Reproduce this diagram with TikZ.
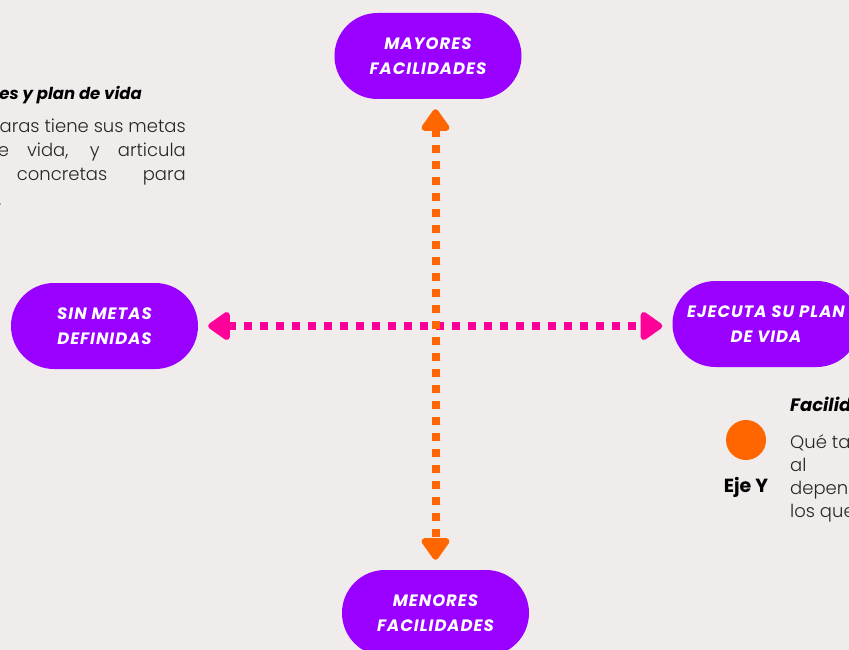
\documentclass[tikz,border=0pt]{standalone}
\usepackage{fontspec}
\setmainfont{Poppins}
\newfontfamily\bodyfont{Poppins Light}
\newfontfamily\labelfont{Poppins}[LetterSpace=6]
\usetikzlibrary{arrows.meta,calc}
\definecolor{bg}{HTML}{F0ECEB}
\definecolor{purp}{HTML}{9900FF}
\definecolor{pinkc}{HTML}{FF0099}
\definecolor{orangec}{HTML}{FF6600}
\begin{document}
\begin{tikzpicture}[x=1pt,y=-1pt,
  pill/.style={draw=none,fill=purp,rounded corners=43pt,minimum width=187pt,minimum height=86pt,
    text=white,align=center,font=\labelfont\bfseries\itshape\fontsize{16.5}{25}\selectfont},
  dotline/.style={line width=8pt,dash pattern=on 8pt off 8pt,shorten >=10pt,shorten <=10pt,
    {Triangle[width=32pt,length=24pt,round]}-{Triangle[width=32pt,length=24pt,round]}},
  bodytxt/.style={inner sep=0pt,font=\bodyfont\fontsize{18}{23}\selectfont,text=black!85},
  titletxt/.style={inner sep=0pt,font=\bfseries\itshape\fontsize{16.5}{23}\selectfont,text=black}]
\useasboundingbox (0,0) rectangle (849,650);
\clip (0,0) rectangle (849,650);
\fill[bg] (0,0) rectangle (849,650);
% nodes
\node[pill] (top) at (428,56) {MAYORES\\FACILIDADES};
\node[pill] (left) at (104.5,326) {SIN METAS\\DEFINIDAS};
\node[pill] (right) at (766,324) {EJECUTA SU PLAN\\DE VIDA};
\node[pill] (bot) at (435.5,613) {MENORES\\FACILIDADES};
% connectors
\draw[dotline,pinkc] (left.east) -- (left.east -| right.west);
\draw[dotline,orangec] (bot.north |- top.south) -- (bot.north);
% left text block
\node[titletxt,anchor=base east] (lt) at (142,100) {es y plan de vida};
\node[bodytxt,anchor=base east] (l1) at (186,133) {aras tiene sus metas};
\node[bodytxt,anchor=base east] (l2) at (186,157) {\makebox[188pt][s]{e vida, y articula}};
\node[bodytxt,anchor=base east] (l3) at (186,181) {\makebox[169pt][s]{concretas para}};
\node[bodytxt,anchor=base west] (l4) at (-2,205) {.};
% right legend
\node[circle,fill=orangec,minimum size=40pt,inner sep=0pt] (dot) at (746,440) {};
\node[titletxt,font=\bfseries\fontsize{19}{23}\selectfont,anchor=base] (eje) at (746,492) {Eje Y};
\node[titletxt,font=\bfseries\itshape\fontsize{18}{23}\selectfont,anchor=base west] (rt) at (790,411) {Facilid};
\node[bodytxt,anchor=base west] (r1) at (790,448) {Qué ta};
\node[bodytxt,anchor=base west] (r2) at (790,471) {al};
\node[bodytxt,anchor=base west] (r3) at (790,494) {depend};
\node[bodytxt,anchor=base west] (r4) at (790,517) {los que};
\end{tikzpicture}
\end{document}
